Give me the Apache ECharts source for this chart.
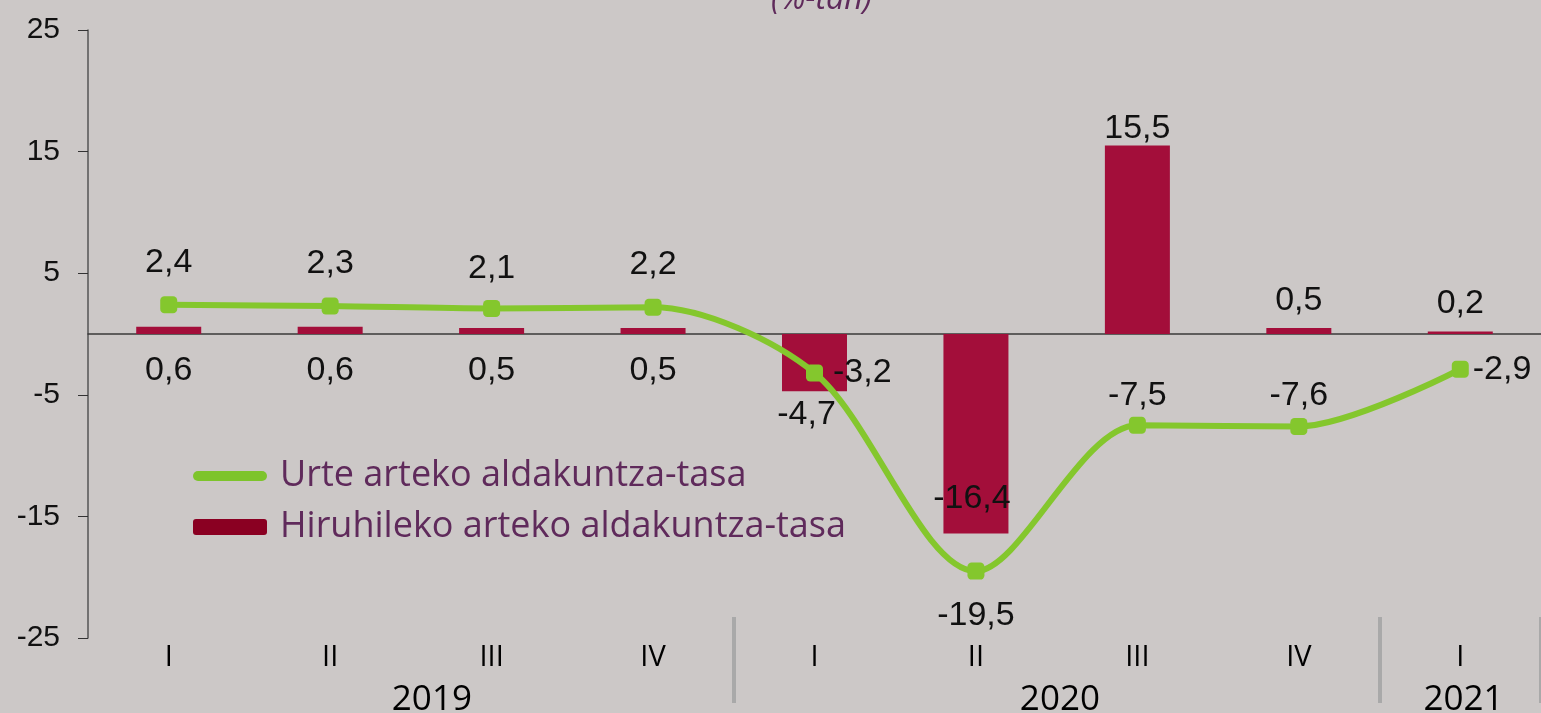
<!DOCTYPE html>
<html>
<head>
<meta charset="utf-8">
<script src="https://cdn.jsdelivr.net/npm/echarts@6/dist/echarts.min.js"></script>
<style>
html, body { margin: 0; padding: 0; background: #ccc8c7; }
#chart { width: 1541px; height: 713px; }
</style>
</head>
<body>
<div id="chart"></div>
<script>
var quarters = ['I', 'II', 'III', 'IV', 'I', 'II', 'III', 'IV', 'I'];
var years = ['2019', '2020', '2021'];
var yearSpans = [4, 4, 1];
var annualRate = [2.4, 2.3, 2.1, 2.2, -3.2, -19.5, -7.5, -7.6, -2.9];
var quarterlyRate = [0.6, 0.6, 0.5, 0.5, -4.7, -16.4, 15.5, 0.5, 0.2];

var lineName = 'Urte arteko aldakuntza-tasa';
var barName = 'Hiruhileko arteko aldakuntza-tasa';

// label placement, per point
var lineLabelPos = ['top', 'top', 'top', 'top', 'right', 'bottom', 'top', 'top', 'right'];
var lineLabelDist = [17, 17, 14, 17, 10, 19, 4, 5, 4];
var barLabelPos = ['bottom', 'bottom', 'bottom', 'bottom', 'bottom', 'insideBottom', 'top', 'top', 'top'];
var barLabelDist = [20, 20, 20, 20, 6, 18, 0, 10, 11];
var barLabelOffset = [[0, 0], [0, 0], [0, 0], [0, 0], [-8, 0], [-4, 0], [0, 0], [0, 0], [0, 0]];
// small shift of the year captions, in category units
var yearNudge = [0.13, 0.02, 0.02];

// year group borders and centres, in category units
var yearBorders = [], yearCenters = [];
var acc = 0;
yearSpans.forEach(function (s, i) {
    yearCenters.push(acc + s / 2 + yearNudge[i]);
    acc += s;
    yearBorders.push(acc);
});

function comma(v) {
    return v.toFixed(1).replace('.', ',');
}

var numFont = 'Liberation Sans, Arial, sans-serif';
var txtFont = 'Open Sans, sans-serif';

var myChart = echarts.init(document.getElementById('chart'));
var option = {
    backgroundColor: '#ccc8c7',
    animation: false,
    title: {
        text: '(%-tan)',
        left: 771,
        top: -16,
        padding: 0,
        textStyle: {
            color: '#5f2a5b',
            fontStyle: 'italic',
            fontWeight: 'normal',
            fontSize: 32,
            fontFamily: txtFont
        }
    },
    grid: {
        left: 88,
        right: 0,
        top: 30,
        bottom: 75,
        containLabel: false,
        outerBoundsMode: 'none'
    },
    legend: {
        orient: 'vertical',
        left: 193,
        top: 458,
        padding: 0,
        itemWidth: 74,
        itemHeight: 16,
        itemGap: 15,
        textStyle: {
            color: '#5f2a5b',
            fontSize: 36,
            fontFamily: txtFont,
            padding: [0, 0, 0, 8]
        },
        data: [
            {
                name: lineName,
                icon: 'path://M5,0 H69 A5,5 0 0 1 69,10 H5 A5,5 0 0 1 5,0 Z',
                itemStyle: { color: '#7dc42b' }
            },
            {
                name: barName,
                icon: 'path://M3,0 H71 A3,3 0 0 1 74,3 V13 A3,3 0 0 1 71,16 H3 A3,3 0 0 1 0,13 V3 A3,3 0 0 1 3,0 Z',
                itemStyle: { color: '#8a0022' }
            }
        ]
    },
    xAxis: [
        {
            type: 'category',
            data: quarters,
            position: 'bottom',
            axisLine: { onZero: true, lineStyle: { color: '#3a3a3a', width: 1.5 } },
            axisTick: { alignWithLabel: true, length: 9, lineStyle: { color: '#222', width: 2 } },
            axisLabel: { show: false },
            splitLine: { show: false }
        },
        {
            type: 'category',
            data: quarters,
            position: 'bottom',
            axisLine: { show: false, onZero: false },
            axisTick: { show: false },
            axisLabel: {
                margin: 5,
                color: '#000',
                fontSize: 29,
                fontFamily: txtFont
            }
        },
        {
            type: 'value',
            position: 'bottom',
            min: 0,
            max: quarters.length,
            offset: -21,
            axisLine: { show: false, onZero: false },
            axisTick: {
                show: true,
                customValues: yearBorders,
                length: 86,
                lineStyle: { color: '#a9a9a9', width: 4 }
            },
            axisLabel: {
                customValues: yearCenters,
                margin: 66,
                color: '#000',
                fontSize: 35,
                fontFamily: txtFont,
                formatter: function (v) {
                    var i = yearCenters.indexOf(v);
                    return i >= 0 ? years[i] : '';
                }
            },
            splitLine: { show: false }
        }
    ],
    yAxis: {
        type: 'value',
        min: -25,
        max: 25,
        interval: 10,
        axisLine: { show: true, lineStyle: { color: '#555', width: 1.5 } },
        axisTick: { show: true, length: 10, lineStyle: { color: '#333' } },
        splitLine: { show: false },
        axisLabel: {
            margin: 28,
            color: '#111',
            fontSize: 30,
            fontFamily: numFont
        }
    },
    series: [
        {
            type: 'bar',
            name: barName,
            xAxisIndex: 0,
            barWidth: 65,
            itemStyle: { color: '#a30e3a' },
            label: {
                show: true,
                color: '#111',
                fontSize: 34,
                fontFamily: numFont,
                formatter: function (p) { return comma(p.value); }
            },
            data: quarterlyRate.map(function (v, i) {
                return {
                    value: v,
                    label: { position: barLabelPos[i], distance: barLabelDist[i], offset: barLabelOffset[i] }
                };
            })
        },
        {
            type: 'line',
            name: lineName,
            xAxisIndex: 0,
            smooth: 0.3,
            z: 5,
            symbol: 'roundRect',
            symbolSize: 17,
            lineStyle: { color: '#84c72d', width: 6 },
            itemStyle: { color: '#84c72d' },
            label: {
                show: true,
                color: '#111',
                fontSize: 34,
                fontFamily: numFont,
                formatter: function (p) { return comma(p.value); }
            },
            data: annualRate.map(function (v, i) {
                return {
                    value: v,
                    label: { position: lineLabelPos[i], distance: lineLabelDist[i] }
                };
            })
        }
    ]
};

myChart.setOption(option);
</script>
</body>
</html>
